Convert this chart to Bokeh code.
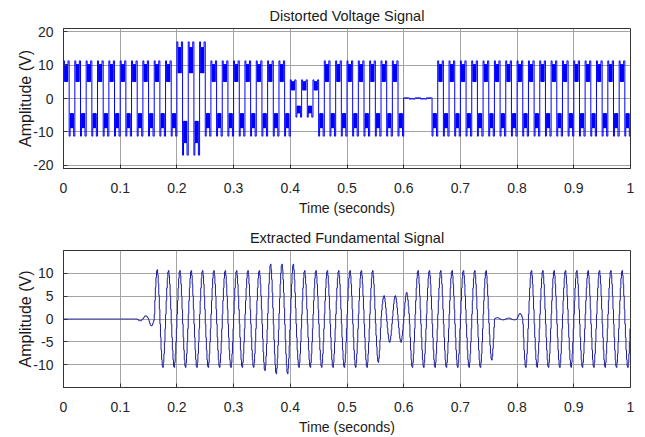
import numpy as np
from bokeh.plotting import figure
from bokeh.layouts import column
from bokeh.models import FixedTicker, Range1d
from bokeh.embed import file_html
from bokeh.resources import INLINE

# ---------------- data ----------------
half_cycle = 0.01  # seconds per half cycle (50 Hz)

x_ticks = [0, 0.1, 0.2, 0.3, 0.4, 0.5, 0.6, 0.7, 0.8, 0.9, 1]
x_tick_labels = ["0", "0.1", "0.2", "0.3", "0.4", "0.5", "0.6", "0.7", "0.8", "0.9", "1"]
top_y_ticks = [-20, -10, 0, 10, 20]
top_y_labels = ["-20", "-10", "0", "10", "20"]
bot_y_ticks = [-10, -5, 0, 5, 10]
bot_y_labels = ["-10", "-5", "0", "5", "10"]

# normalised levels inside one half cycle of the distorted (multilevel PWM) wave
distorted_pos_half = [1.0, 1.0, 1.0, 1.0, 0.9, 0.45, 0.9, 0.45, 0.9, 0.45, 0.9, 0.45,
                      0.9, 0.45, 0.9, 0.45, 0.9, 0.45, 0.9, 1.0, 1.0, 1.0, 1.0, 1.0]
distorted_neg_half = [-1.0, -1.0, -1.0, -1.0, -0.78, -0.4, -0.78, -0.4, -0.78, -0.4, -0.78, -0.4,
                      -0.78, -0.4, -0.78, -0.4, -0.78, -0.4, -0.78, -1.0, -1.0, -1.0, -1.0, -1.0]

# peak amplitude (V) of each half cycle, 0 .. 1 s
distorted_amplitude = [
    11.3, 11.3, 11.3, 11.3, 11.3, 11.3, 11.3, 11.3, 11.3, 11.3,
    11.3, 11.3, 11.3, 11.3, 11.3, 11.3, 11.3, 11.3, 11.3, 11.3,
    17.0, 17.0, 17.0, 17.0, 17.0, 11.3, 11.3, 11.3, 11.3, 11.3,
    11.3, 11.3, 11.3, 11.3, 11.3, 11.3, 11.3, 11.3, 11.3, 11.3,
    5.6, 5.6, 5.6, 5.6, 5.6, 11.3, 11.3, 11.3, 11.3, 11.3,
    11.3, 11.3, 11.3, 11.3, 11.3, 11.3, 11.3, 11.3, 11.3, 11.3,
    0.2, 0.2, 0.2, 0.2, 0.2, 11.3, 11.3, 11.3, 11.3, 11.3,
    11.3, 11.3, 11.3, 11.3, 11.3, 11.3, 11.3, 11.3, 11.3, 11.3,
    11.3, 11.3, 11.3, 11.3, 11.3, 11.3, 11.3, 11.3, 11.3, 11.3,
    11.3, 11.3, 11.3, 11.3, 11.3, 11.3, 11.3, 11.3, 11.3, 11.3,
]

# staircase levels inside one half cycle of the extracted fundamental
fundamental_pos_half = [0.1, 0.38, 0.64, 0.84, 0.97, 1.0, 0.9, 0.72, 0.48, 0.2]
fundamental_neg_half = [-0.1, -0.38, -0.64, -0.84, -0.97, -1.0, -0.9, -0.72, -0.48, -0.2]

fundamental_amplitude = [
    0, 0, 0, 0, 0, 0, 0, 0, 0, 0,
    0, 0, 0, 0.4, 0.7, 1.5, 10.8, 10.6, 10.6, 10.6,
    10.6, 10.6, 10.6, 10.6, 10.6, 10.6, 10.6, 10.6, 10.6, 10.6,
    10.6, 10.6, 10.6, 10.6, 10.6, 11.3, 12.0, 12.0, 12.0, 12.0,
    12.0, 10.6, 10.6, 10.6, 10.6, 10.6, 10.6, 10.6, 10.6, 10.6,
    10.6, 10.6, 10.6, 10.6, 10.6, 9.5, 5.1, 5.1, 5.1, 5.1,
    5.8, 10.6, 10.6, 10.6, 10.6, 10.6, 10.6, 10.6, 10.6, 10.6,
    10.6, 10.6, 10.6, 10.6, 10.6, 9.0, 0.3, 0.2, 0.2, 0.2,
    1.2, 10.6, 10.6, 10.6, 10.6, 10.6, 10.6, 10.6, 10.6, 10.6,
    10.6, 10.6, 10.6, 10.6, 10.6, 10.6, 10.6, 10.6, 10.6, 10.6,
]


def build(pos, neg, amps):
    ys = []
    for k, a in enumerate(amps):
        pat = pos if k % 2 == 0 else neg
        ys.extend(a * v for v in pat)
    n = len(pos)
    t = np.arange(len(ys) + 1) * (half_cycle / n)
    ys.append(ys[-1])
    return t, np.array(ys)


FONT = "Liberation Sans"
TXT = "#262626"


def style(p, yticks, ylabels, xlabel_standoff):
    p.title.align = "center"
    p.title.text_font = FONT
    p.title.text_font_size = "14.5px"
    p.title.text_font_style = "normal"
    p.title.text_color = "#1a1a1a"
    p.outline_line_color = "#333333"
    p.outline_line_width = 1
    p.background_fill_color = "white"
    p.border_fill_color = "white"
    p.xaxis.ticker = FixedTicker(ticks=x_ticks)
    p.xaxis.major_label_overrides = {v: s for v, s in zip(x_ticks, x_tick_labels)}
    p.yaxis.ticker = FixedTicker(ticks=yticks)
    p.yaxis.major_label_overrides = {v: s for v, s in zip(yticks, ylabels)}
    p.xgrid.ticker = FixedTicker(ticks=x_ticks)
    p.ygrid.ticker = FixedTicker(ticks=yticks)
    for g in (p.xgrid, p.ygrid):
        g.grid_line_color = "#a4a4a4"
        g.grid_line_width = 1
    for ax in (p.xaxis[0], p.yaxis[0]):
        ax.major_tick_in = 4
        ax.major_tick_out = 0
        ax.minor_tick_in = 0
        ax.minor_tick_out = 0
        ax.axis_line_color = "#333333"
        ax.major_tick_line_color = "#333333"
        ax.major_label_text_font = FONT
        ax.major_label_text_font_size = "14px"
        ax.major_label_text_color = TXT
        ax.axis_label_text_font = FONT
        ax.axis_label_text_font_style = "normal"
        ax.axis_label_text_color = "#1a1a1a"
    p.xaxis.axis_label_text_font_size = "14px"
    p.yaxis.axis_label_text_font_size = "16px"
    p.xaxis.major_label_standoff = 14
    p.yaxis.major_label_standoff = 10
    p.xaxis.axis_label = "Time (seconds)"
    p.yaxis.axis_label = "Amplitude (V)"
    p.xaxis.axis_label_standoff = xlabel_standoff
    p.yaxis.axis_label_standoff = -4


t1, y1 = build(distorted_pos_half, distorted_neg_half, distorted_amplitude)
t2, y2 = build(fundamental_pos_half, fundamental_neg_half, fundamental_amplitude)

p1 = figure(width=645, height=222, x_range=Range1d(0, 1), y_range=Range1d(-21, 21),
            output_backend="svg", toolbar_location=None, title="Distorted Voltage Signal",
            min_border_left=63, min_border_right=15, min_border_top=28, min_border_bottom=54)
style(p1, top_y_ticks, top_y_labels, 4)
p1.step(t1, y1, mode="after", line_color="#0000ff", line_width=1)

p2 = figure(width=645, height=215, x_range=Range1d(0, 1), y_range=Range1d(-15, 15),
            output_backend="svg", toolbar_location=None, title="Extracted Fundamental Signal",
            min_border_left=63, min_border_right=15, min_border_top=26, min_border_bottom=49)
style(p2, bot_y_ticks, bot_y_labels, 4)
p2.step(t2, y2, mode="after", line_color="#1f1fa0", line_width=1)

layout = column(p1, p2, spacing=0)
open("out.html", "w").write(file_html(layout, INLINE))
